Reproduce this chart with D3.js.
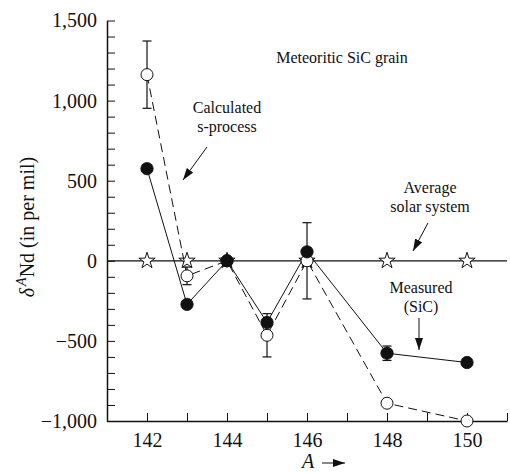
<!DOCTYPE html>
<html><head><meta charset="utf-8">
<script src="https://cdn.jsdelivr.net/npm/d3@7"></script>
</head><body style="margin:0">
<script>
const massNumbers = [142, 143, 144, 145, 146, 148, 150];
const measured = [575, -272, 0, -385, 56, -577, -635];
const measuredErr = [0, 0, 0, 0, 0, 45, 0];
const calculated = [1162, -94, 0, -465, 0, -889, -1000];
const calculatedErr = [210, 55, 0, 135, 238, 0, 0];
const solarA = [142, 143, 144, 146, 148, 150];
const solarValues = [0, 0, 0, 0, 0, 0];
const yTicks = d3.range(-1000, 1501, 100);
const xTicks = d3.range(141, 152, 1);
const annotations = [
  {lines:["Meteoritic SiC grain"], x:342, y:63},
  {lines:["Calculated","s-process"], x:227, y:113},
  {lines:["Average","solar system"], x:430, y:193},
  {lines:["Measured","(SiC)"], x:421, y:293}
];
const arrows = [[207,147,183,180],[428,223,413,251],[419,318,419,350]];
const FONT = "Liberation Serif";

const svg = d3.select("body").append("svg").attr("width",510).attr("height",474)
  .style("display","block").attr("font-family",FONT);
const x = d3.scaleLinear().domain([141, 151]).range([107, 507]);
const y = d3.scaleLinear().domain([-1000, 1500]).range([421, 20.5]);
const fmt = d3.format(",");

svg.append("defs").append("marker").attr("id","ah").attr("viewBox","0 0 12 8")
  .attr("refX",12).attr("refY",4).attr("markerWidth",12).attr("markerHeight",8)
  .attr("markerUnits","userSpaceOnUse").attr("orient","auto")
  .append("path").attr("d","M0,0L12,4L0,8Z").attr("fill","#111");

const ya = svg.append("g").attr("transform",`translate(${x(141)},0)`)
  .call(d3.axisLeft(y).tickValues(yTicks).tickSizeInner(-8).tickSizeOuter(0).tickPadding(10)
    .tickFormat(d => d % 500 === 0 ? fmt(d) : ""));
const xa = svg.append("g").attr("transform",`translate(0,${y(-1000)})`)
  .call(d3.axisBottom(x).tickValues(xTicks).tickSizeInner(-8).tickSizeOuter(0).tickPadding(12)
    .tickFormat(d => (d % 2 === 0 && d >= 142 && d <= 150) ? d : ""));
[ya, xa].forEach(g => {
  g.attr("font-family", FONT).attr("font-size", 20);
  g.selectAll("path.domain").attr("stroke","#111").attr("stroke-width",1.5);
  g.selectAll(".tick line").attr("stroke","#111").attr("stroke-width",1);
  g.selectAll("text").attr("font-family", FONT).attr("font-size",20).attr("fill","#111");
});

svg.append("line").attr("x1",x(141)).attr("x2",x(151)).attr("y1",y(0)).attr("y2",y(0))
  .attr("stroke","#111").attr("stroke-width",1.3);

svg.selectAll("path.star").data(solarA.map((a,i)=>[a,solarValues[i]])).join("path")
  .attr("class","star").attr("d", d3.symbol(d3.symbolStar, 82)())
  .attr("transform", d => `translate(${x(d[0])},${y(d[1])})`)
  .attr("fill","#fff").attr("stroke","#111").attr("stroke-width",1);

const line = d3.line().x(d=>x(d[0])).y(d=>y(d[1]));
const calcPts = massNumbers.map((a,i)=>[a,calculated[i],calculatedErr[i]]);
const measPts = massNumbers.map((a,i)=>[a,measured[i],measuredErr[i]]);
svg.append("path").attr("d",line(calcPts)).attr("fill","none").attr("stroke","#111")
  .attr("stroke-width",1).attr("stroke-dasharray","9,5");
svg.append("path").attr("d",line(measPts)).attr("fill","none").attr("stroke","#111")
  .attr("stroke-width",1);

function errBars(pts){
  const g = svg.append("g").attr("stroke","#111").attr("stroke-width",1.2);
  pts.filter(p=>p[2]>0).forEach(p=>{
    const cx = x(p[0]), t = y(p[1]+p[2]), b = y(p[1]-p[2]);
    g.append("line").attr("x1",cx).attr("x2",cx).attr("y1",t).attr("y2",b);
    g.append("line").attr("x1",cx-4.5).attr("x2",cx+4.5).attr("y1",t).attr("y2",t);
    g.append("line").attr("x1",cx-4.5).attr("x2",cx+4.5).attr("y1",b).attr("y2",b);
  });
}
errBars(calcPts); errBars(measPts);

svg.selectAll("circle.open").data(calcPts).join("circle").attr("class","open")
  .attr("cx",d=>x(d[0])).attr("cy",d=>y(d[1])).attr("r",6)
  .attr("fill","#fff").attr("stroke","#111").attr("stroke-width",1);
svg.selectAll("circle.fill").data(measPts).join("circle").attr("class","fill")
  .attr("cx",d=>x(d[0])).attr("cy",d=>y(d[1])).attr("r",6.2)
  .attr("fill","#111").attr("stroke","#111").attr("stroke-width",0.8);

annotations.forEach(a=>{
  a.lines.forEach((l,i)=>{
    svg.append("text").attr("x",a.x).attr("y",a.y+i*19).attr("text-anchor","middle")
      .attr("font-family",FONT).attr("fill","#111").attr("font-size",16).text(l);
  });
});
arrows.forEach(r=>{
  svg.append("line").attr("x1",r[0]).attr("y1",r[1]).attr("x2",r[2]).attr("y2",r[3])
    .attr("stroke","#111").attr("stroke-width",1).attr("marker-end","url(#ah)");
});

const yt = svg.append("text").attr("transform","translate(34,227) rotate(-90)")
  .attr("text-anchor","middle").attr("font-size",20).attr("fill","#111")
  .attr("font-family",FONT);
yt.append("tspan").attr("font-style","italic").text("δ");
yt.append("tspan").attr("font-style","italic").attr("font-size",14).attr("dy",-8).attr("dx",2).text("A");
yt.append("tspan").attr("dy",8).text("Nd (in per mil)");

svg.append("text").attr("x",302).attr("y",468).attr("font-size",20).attr("font-style","italic")
  .attr("font-family",FONT).attr("fill","#111").text("A");
svg.append("line").attr("x1",322).attr("x2",345).attr("y1",463).attr("y2",463)
  .attr("stroke","#111").attr("stroke-width",1).attr("marker-end","url(#ah)");
</script></body></html>
